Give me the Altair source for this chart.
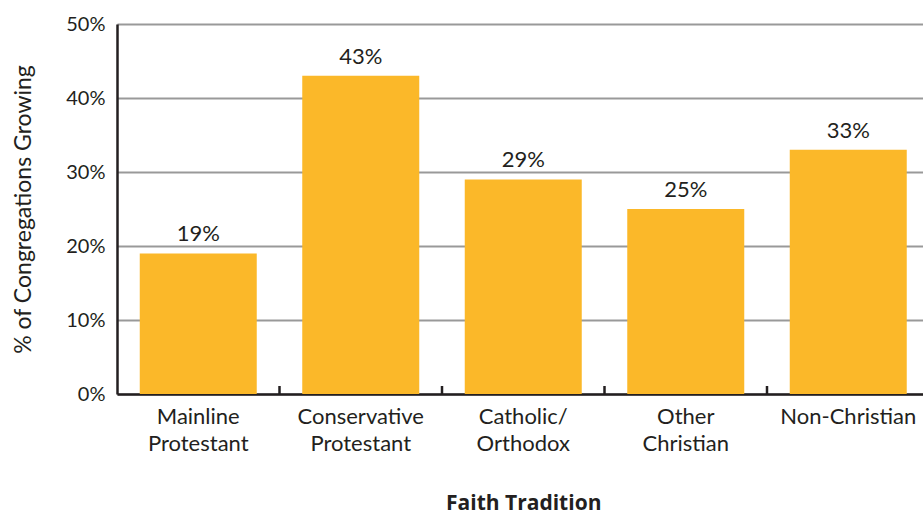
import altair as alt
import pandas as pd

categories = ["Mainline|Protestant", "Conservative|Protestant", "Catholic/|Orthodox", "Other|Christian", "Non-Christian"]
values = [19, 43, 29, 25, 33]
value_labels = ["19%", "43%", "29%", "25%", "33%"]

df = pd.DataFrame({"cat": categories, "val": values, "lab": value_labels})
bounds = df.iloc[1:].copy()

FONT = "Lato"
TXT = "#231f20"
BAR = "#FBB829"

xscale = alt.Scale(domain=categories, range=[0, 812.5], paddingInner=0, paddingOuter=0)

x_axis = alt.Axis(
    title="Faith Tradition",
    titleFont="Open Sans", titleFontSize=21, titleFontWeight="bold", titleColor=TXT,
    titleY=109, titleBaseline="middle",
    labelExpr="split(datum.label, '|')",
    labelFont=FONT, labelFontSize=22, labelColor=TXT, labelLineHeight=27,
    labelPadding=12, labelAngle=0,
    ticks=False, domainColor="#231f20", domainWidth=2.5, grid=False,
)

y_axis = alt.Axis(
    values=[0, 10, 20, 30, 40, 50],
    labelExpr="datum.value + '%'",
    labelFont=FONT, labelFontSize=20, labelColor=TXT, labelPadding=12,
    ticks=False, domainColor="#231f20", domainWidth=2.5,
    grid=True, gridColor="#999999", gridWidth=2,
    title="% of Congregations Growing",
    titleFont=FONT, titleFontSize=23, titleFontWeight="normal", titleColor=TXT,
    titleX=-94, titleY=185, titleAngle=270, titleAlign="center", titleBaseline="middle",
)

base = alt.Chart(df)

bars = base.mark_bar(color=BAR, width=alt.RelativeBandSize(0.72)).encode(
    x=alt.X("cat:N", scale=xscale, axis=x_axis, sort=categories),
    y=alt.Y("val:Q", scale=alt.Scale(domain=[0, 50], nice=False), axis=y_axis),
)

texts = base.mark_text(font=FONT, fontSize=22, color=TXT, dy=-12, baseline="alphabetic").encode(
    x=alt.X("cat:N", scale=xscale, sort=categories),
    y=alt.Y("val:Q"),
    text="lab:N",
)

ticks = alt.Chart(bounds).mark_rule(color="#231f20", strokeWidth=2.5).encode(
    x=alt.X("cat:N", scale=xscale, sort=categories, bandPosition=0),
    y=alt.value(362),
    y2=alt.value(370),
)

chart = alt.layer(bars, texts, ticks).properties(
    width=806, height=370,
    autosize=alt.AutoSizeParams(type="none"),
    padding={"left": 117, "top": 24, "right": 0, "bottom": 120},
).configure_view(stroke=None).configure(background="white")

chart.save("out.html", embed_options={"renderer": "svg", "actions": False})
